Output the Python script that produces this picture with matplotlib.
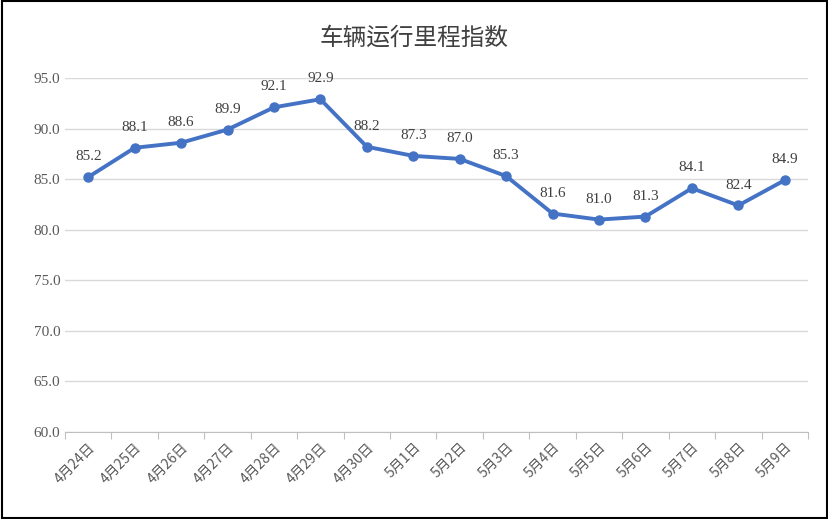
import matplotlib
matplotlib.use("Agg")
import matplotlib.pyplot as plt

dates = ["4月24日","4月25日","4月26日","4月27日","4月28日","4月29日","4月30日","5月1日",
         "5月2日","5月3日","5月4日","5月5日","5月6日","5月7日","5月8日","5月9日"]
values = [85.2,88.1,88.6,89.9,92.1,92.9,88.2,87.3,87.0,85.3,81.6,81.0,81.3,84.1,82.4,84.9]
yticks = [60,65,70,75,80,85,90,95]

CJK = ["Noto Sans CJK JP","Noto Sans CJK SC","Noto Sans CJK TC","Noto Sans CJK KR","DejaVu Sans"]

fig = plt.figure(figsize=(8.29,5.19), dpi=100)
fig.patches.append(plt.Rectangle((0.002,0.002),0.996,0.996,transform=fig.transFigure,
                                 fill=False,edgecolor="black",linewidth=1.5))
ax = fig.add_axes([65/829, 1-432/519, (808-65)/829, (432-78)/519])
x = list(range(len(dates)))
ax.plot(x, values, color="#4472C4", linewidth=2.8, marker="o", markersize=6.5)
for xi, v in zip(x, values):
    ax.annotate(f"{v:.1f}", (xi, v), xytext=(0,10), textcoords="offset points",
                ha="center", va="bottom", fontsize=11, family="Liberation Serif", color="#404040")
ax.set_xlim(-0.5, len(dates)-0.5)
ax.set_ylim(60,95)
ax.set_yticks(yticks)
ax.set_yticklabels([f"{t:.1f}" for t in yticks], family="Liberation Serif", fontsize=11, color="#595959")
ax.set_xticks([i-0.5 for i in range(len(dates)+1)], minor=False)
ax.set_xticklabels([])
ax.set_xticks(x, minor=True)
ax.set_xticklabels(dates, minor=True, rotation=45, ha="right", rotation_mode="anchor",
                   family=CJK, fontsize=10, color="#595959")
ax.tick_params(axis="x", which="major", length=5, color="#BFBFBF")
ax.tick_params(axis="x", which="minor", length=0, pad=6)
ax.tick_params(axis="y", length=0)
ax.grid(axis="y", color="#D9D9D9", linewidth=1)
for s in ["top","right","left"]:
    ax.spines[s].set_visible(False)
ax.spines["bottom"].set_color("#BFBFBF")
fig.text(0.5, 1-38/519, "车辆运行里程指数", ha="center", va="center",
         family=CJK, fontsize=17, color="#404040")
fig.savefig("out.png", dpi=100)
